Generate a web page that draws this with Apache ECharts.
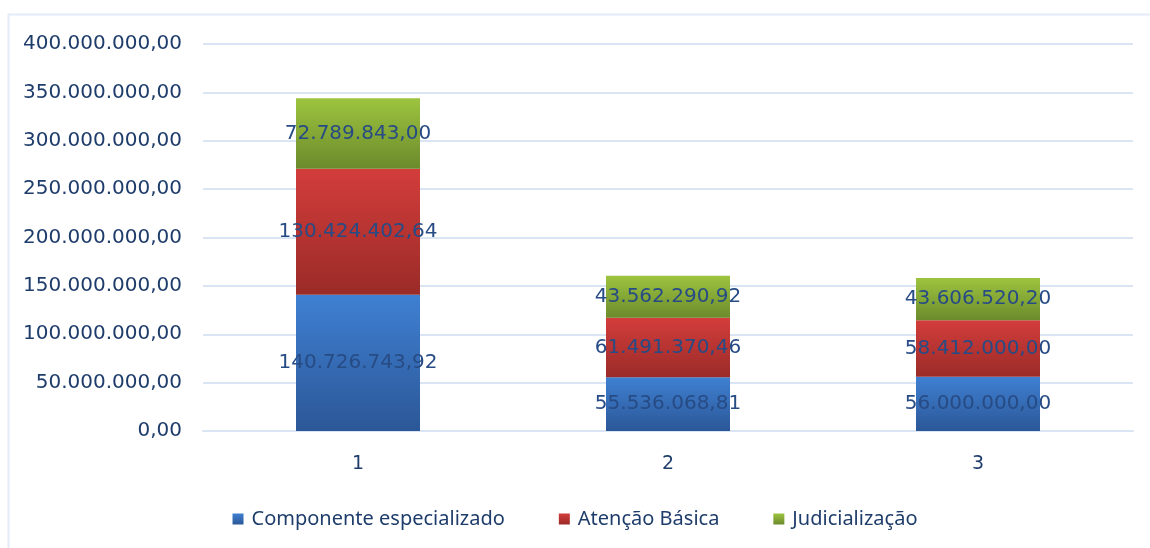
<!DOCTYPE html>
<html>
<head>
<meta charset="utf-8">
<script src="https://cdn.jsdelivr.net/npm/echarts@6/dist/echarts.min.js"></script>
<style>
  html, body { margin: 0; padding: 0; background: #fff; }
  #dataView { width: 1150px; height: 548px; }
</style>
</head>
<body>
<div id="dataView"></div>
<script>
// dados
var categorias = ['1', '2', '3'];
var componenteEspecializado = [140726743.92, 55536068.81, 56000000.00];
var atencaoBasica = [130424402.64, 61491370.46, 58412000.00];
var judicializacao = [72789843.00, 43562290.92, 43606520.20];
var nomesSeries = ['Componente especializado', 'Atenção Básica', 'Judicialização'];

// formata número no padrão brasileiro: 1.234.567,89
function fmt(v) {
	var partes = Number(v).toFixed(2).split('.');
	var inteiro = partes[0].replace(/\B(?=(\d{3})+(?!\d))/g, '.');
	return inteiro + ',' + partes[1];
}

function grad(topo, base) {
	return new echarts.graphic.LinearGradient(0, 0, 0, 1, [
		{ offset: 0, color: topo },
		{ offset: 1, color: base }
	]);
}

var rotulo = {
	show: true,
	position: 'inside',
	color: '#274b85',
	fontFamily: 'DejaVu Sans',
	fontSize: 20,
	formatter: function (p) { return fmt(p.value); }
};

var dataViewcharts = echarts.init(document.getElementById('dataView'));
var dataViewoption = {
	animation: false,
	backgroundColor: '#ffffff',
	graphic: [{
		type: 'rect',
		shape: { x: 8.5, y: 14.5, width: 1200, height: 600 },
		style: { fill: 'none', stroke: '#e3ecf8', lineWidth: 2 },
		silent: true
	}],
	grid: { left: 203, right: 17, top: 44, bottom: 117 },
	legend: {
		bottom: 14,
		left: 'center',
		itemWidth: 11,
		itemHeight: 11,
		itemGap: 54,
		icon: 'rect',
		textStyle: { color: '#1f3d6b', fontFamily: 'Noto Sans', fontSize: 20, padding: [0, 0, 0, 3] },
		data: nomesSeries
	},
	xAxis: {
		type: 'category',
		data: categorias,
		axisLine: { show: true, lineStyle: { color: '#d9e5f4', width: 2 } },
		axisTick: { show: false },
		axisLabel: { color: '#1f3d6b', fontFamily: 'DejaVu Sans', fontSize: 19, margin: 24 }
	},
	yAxis: {
		type: 'value',
		min: 0,
		max: 400000000,
		interval: 50000000,
		axisLine: { show: false },
		axisTick: { show: false },
		splitLine: { lineStyle: { color: '#d9e5f4', width: 2 } },
		axisLabel: {
			color: '#1f3d6b',
			fontFamily: 'DejaVu Sans',
			fontSize: 20,
			margin: 21,
			formatter: function (v) { return fmt(v); }
		}
	},
	series: [
		{
			name: nomesSeries[0],
			type: 'bar',
			stack: 'total',
			barWidth: '40%',
			itemStyle: { color: grad('#3f80d2', '#2b5797') },
			label: rotulo,
			data: componenteEspecializado
		},
		{
			name: nomesSeries[1],
			type: 'bar',
			stack: 'total',
			itemStyle: { color: grad('#d33d3b', '#9a2b28') },
			label: rotulo,
			data: atencaoBasica
		},
		{
			name: nomesSeries[2],
			type: 'bar',
			stack: 'total',
			itemStyle: { color: grad('#9dc43f', '#6b8a2c') },
			label: rotulo,
			data: judicializacao
		}
	]
};
dataViewcharts.setOption(dataViewoption);
</script>
</body>
</html>
